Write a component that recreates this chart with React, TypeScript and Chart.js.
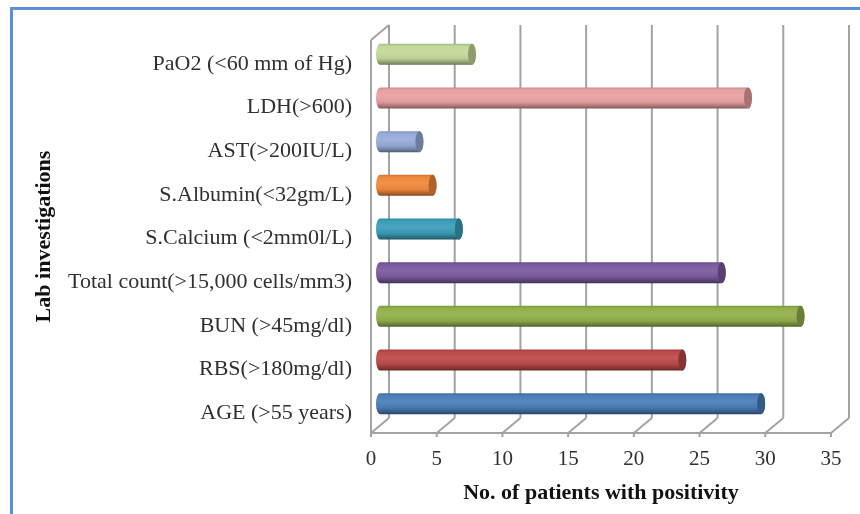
import React, { useEffect, useRef } from "react";
import { Chart, registerables, BarElement } from "chart.js";

const categories = [
  "PaO2 (<60 mm of Hg)",
  "LDH(>600)",
  "AST(>200IU/L)",
  "S.Albumin(<32gm/L)",
  "S.Calcium (<2mm0l/L)",
  "Total count(>15,000 cells/mm3)",
  "BUN (>45mg/dl)",
  "RBS(>180mg/dl)",
  "AGE (>55 years)",
];
const patients = [7, 28, 3, 4, 6, 26, 32, 23, 29];
const barColors = [
  "#c3d89a", "#e8a0a0", "#94acd8", "#f0883a", "#3a9db8",
  "#7a5a9e", "#92b04c", "#bc4a48", "#4a7db8",
];
const xTicks = [0, 5, 10, 15, 20, 25, 30, 35];

const DEPTH_X = 18;
const DEPTH_Y = 15;
const BAR_SHIFT_X = 9;
const BAR_SHIFT_Y = 7.5;
const CAP_RX = 4;
const FONT = '"Liberation Serif", "Times New Roman", serif';
const WALL = "#a3a3a3";

// Blends a hex colour towards black (amount < 0) or white (amount > 0).
function shade(hex: string, amount: number) {
  const n = parseInt(hex.slice(1), 16);
  const target = amount < 0 ? 0 : 255;
  const a = Math.abs(amount);
  const mix = (c: number) => Math.round(c + (target - c) * a);
  return `rgb(${mix((n >> 16) & 255)},${mix((n >> 8) & 255)},${mix(n & 255)})`;
}

// A horizontal bar painted as a shaded cylinder sitting midway into the floor depth.
class CylinderBar extends BarElement {
  static id = "cylinderBar";
  draw(ctx: CanvasRenderingContext2D) {
    const { x, y, base, height } = (this as any).getProps(["x", "y", "base", "height"]);
    const color = (this as any).options.backgroundColor as string;
    const left = base + BAR_SHIFT_X;
    const right = x + BAR_SHIFT_X;
    const cy = y - BAR_SHIFT_Y;
    const ry = height / 2;

    const grad = ctx.createLinearGradient(0, cy - ry, 0, cy + ry);
    grad.addColorStop(0, shade(color, -0.14));
    grad.addColorStop(0.12, shade(color, 0));
    grad.addColorStop(0.4, shade(color, 0.08));
    grad.addColorStop(0.7, shade(color, -0.04));
    grad.addColorStop(0.92, shade(color, -0.32));
    grad.addColorStop(1, shade(color, -0.48));

    ctx.save();
    ctx.fillStyle = grad;
    ctx.beginPath();
    ctx.ellipse(left, cy, CAP_RX, ry, 0, Math.PI / 2, (Math.PI * 3) / 2);
    ctx.lineTo(right, cy - ry);
    ctx.ellipse(right, cy, CAP_RX, ry, 0, -Math.PI / 2, Math.PI / 2);
    ctx.closePath();
    ctx.fill();

    ctx.fillStyle = shade(color, -0.28);
    ctx.beginPath();
    ctx.ellipse(right, cy, CAP_RX, ry, 0, 0, Math.PI * 2);
    ctx.fill();
    ctx.restore();
  }
}

// Back wall, side wall and floor of the pseudo-3D plot box.
const wallsPlugin = {
  id: "walls",
  beforeDatasetsDraw(chart: any) {
    const { ctx, chartArea, scales } = chart;
    const { top, bottom, left } = chartArea;
    ctx.save();
    ctx.strokeStyle = WALL;
    ctx.lineWidth = 2;
    const line = (x1: number, y1: number, x2: number, y2: number) => {
      ctx.beginPath();
      ctx.moveTo(x1, y1);
      ctx.lineTo(x2, y2);
      ctx.stroke();
    };
    line(left, top, left, bottom);
    line(left, top, left + DEPTH_X, top - DEPTH_Y);
    line(left, bottom, chartArea.right, bottom);
    xTicks.forEach((t) => {
      const px = scales.x.getPixelForValue(t);
      line(px + DEPTH_X, top - DEPTH_Y, px + DEPTH_X, bottom - DEPTH_Y);
      line(px, bottom, px + DEPTH_X, bottom - DEPTH_Y);
      line(px, bottom, px, bottom + 4);
    });
    ctx.restore();
  },
};

export default function App() {
  const ref = useRef<HTMLCanvasElement>(null);

  useEffect(() => {
    Chart.register(...registerables, CylinderBar as any);
    (Chart.defaults.datasets as any).bar.dataElementType = "cylinderBar";

    const chart = new Chart(ref.current!, {
      type: "bar",
      data: {
        labels: categories,
        datasets: [
          {
            label: "No. of patients with positivity",
            data: patients,
            backgroundColor: barColors,
            barThickness: 21,
          },
        ],
      },
      plugins: [wallsPlugin],
      options: {
        indexAxis: "y",
        animation: false,
        responsive: false,
        layout: { padding: { top: 40, right: 29, left: 0, bottom: 0 } },
        plugins: { legend: { display: false }, tooltip: { enabled: false } },
        scales: {
          x: {
            min: 0,
            max: 35,
            grid: { display: false },
            border: { display: false },
            afterFit: (s: any) => {
              s.height = 81;
            },
            afterBuildTicks: (s: any) => {
              s.ticks = xTicks.map((value) => ({ value }));
            },
            ticks: {
              color: "#303030",
              font: { family: FONT, size: 21 },
              padding: 6,
              maxRotation: 0,
            },
            title: {
              display: true,
              text: "No. of patients with positivity",
              color: "#111",
              font: { family: FONT, size: 22, weight: "bold" },
              padding: { top: 0, bottom: 7 },
            },
          },
          y: {
            grid: { display: false },
            border: { display: false },
            afterFit: (s: any) => {
              s.width = 371;
            },
            ticks: {
              color: "#303030",
              font: { family: FONT, size: 22 },
              padding: 11,
              labelOffset: 2,
              crossAlign: "near",
            },
            title: {
              display: true,
              text: "Lab investigations",
              color: "#111",
              font: { family: FONT, size: 22, weight: "bold" },
              padding: { top: 31, bottom: 0 },
            },
          },
        },
      } as any,
    });
    return () => chart.destroy();
  }, []);

  return (
    <div
      style={{
        position: "absolute",
        left: 0,
        top: 0,
        width: 860,
        height: 514,
        background: "#fff",
        overflow: "hidden",
      }}
    >
      <div style={{ position: "absolute", left: 10, top: 7, width: 850, height: 3, background: "#5b8fd6" }} />
      <div style={{ position: "absolute", left: 10, top: 7, width: 3, height: 507, background: "#5b8fd6" }} />
      <canvas ref={ref} width={860} height={514} style={{ position: "absolute", left: 0, top: 0 }} />
    </div>
  );
}
